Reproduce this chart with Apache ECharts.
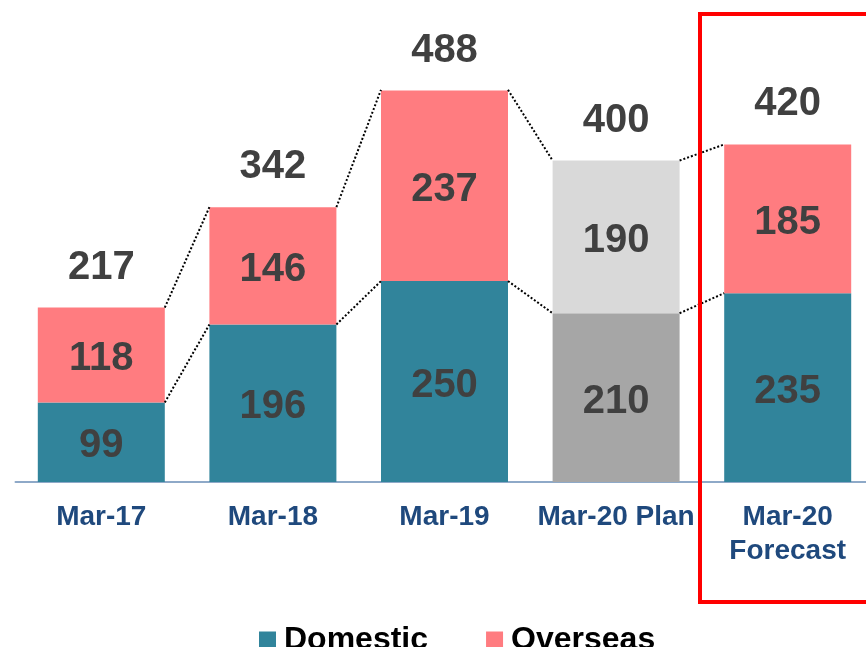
<!DOCTYPE html>
<html>
<head>
<meta charset="utf-8">
<script src="https://cdn.jsdelivr.net/npm/echarts@6/dist/echarts.min.js"></script>
<style>
  html, body { margin: 0; padding: 0; background: #fff; }
  #chart { width: 866px; height: 647px; }
</style>
</head>
<body>
<div id="chart"></div>
<script>
  // data
  const categories = ['Mar-17', 'Mar-18', 'Mar-19', 'Mar-20 Plan', 'Mar-20\nForecast'];
  const domestic = [99, 196, 250, 210, 235];
  const overseas = [118, 146, 237, 190, 185];
  const totals = [217, 342, 488, 400, 420];
  const planIndex = 3;

  const FONT = '"Liberation Sans", Arial, sans-serif';
  const BAR_W = 127;

  const myChart = echarts.init(document.getElementById('chart'));

  const valueLabel = {
    show: true,
    position: 'inside',
    offset: [0, 4],
    color: '#404040',
    fontFamily: FONT,
    fontWeight: 'bold',
    fontSize: 40
  };

  // dotted connectors between neighbouring bars (totals and domestic tops)
  const connectorItem = (params, api) => {
    const i = params.dataIndex;
    if (i >= categories.length - 1) return null;
    const half = BAR_W / 2;
    const lines = [];
    [totals, domestic].forEach((arr) => {
      const a = api.coord([i, arr[i]]);
      const b = api.coord([i + 1, arr[i + 1]]);
      lines.push({
        type: 'line',
        shape: { x1: a[0] + half, y1: a[1], x2: b[0] - half, y2: b[1] },
        style: { stroke: '#000', lineWidth: 2, lineDash: [2, 2] }
      });
    });
    return { type: 'group', children: lines };
  };

  myChart.setOption({
    animation: false,
    grid: { left: 15.5, width: 858, top: 48, bottom: 165, outerBoundsMode: 'none' },
    legend: {
      data: ['Domestic', 'Overseas'],
      left: 254,
      top: 619,
      itemWidth: 17,
      itemHeight: 17,
      itemGap: 58,
      icon: 'rect',
      textStyle: { fontFamily: FONT, fontWeight: 'bold', fontSize: 32, color: '#000', padding: [0, 0, 0, 3] }
    },
    xAxis: {
      type: 'category',
      data: categories,
      axisTick: { show: false },
      axisLine: { lineStyle: { color: '#8EA9C8', width: 2 } },
      axisLabel: {
        interval: 0,
        margin: 18,
        color: '#1F497D',
        fontFamily: FONT,
        fontWeight: 'bold',
        fontSize: 28,
        lineHeight: 34
      }
    },
    yAxis: { type: 'value', min: 0, max: 540, show: false },
    series: [
      {
        name: 'Domestic',
        type: 'bar',
        stack: 'total',
        barWidth: BAR_W,
        itemStyle: { color: '#31849B' },
        label: valueLabel,
        data: domestic.map((v, i) => i === planIndex ? { value: v, itemStyle: { color: '#A6A6A6' } } : v)
      },
      {
        name: 'Overseas',
        type: 'bar',
        stack: 'total',
        barWidth: BAR_W,
        itemStyle: { color: '#FF7C80' },
        label: valueLabel,
        data: overseas.map((v, i) => i === planIndex ? { value: v, itemStyle: { color: '#D9D9D9' } } : v)
      },
      {
        name: 'Total',
        type: 'bar',
        stack: 'total',
        barWidth: BAR_W,
        silent: true,
        itemStyle: { color: 'transparent' },
        label: Object.assign({}, valueLabel, { position: 'top', offset: [0, 0], distance: 20, formatter: (p) => totals[p.dataIndex] }),
        data: totals.map(() => 0)
      },
      {
        name: 'Connectors',
        type: 'custom',
        silent: true,
        renderItem: connectorItem,
        data: totals,
        z: 5
      }
    ],
    graphic: [
      {
        type: 'rect',
        shape: { x: 700, y: 14, width: 200, height: 588 },
        style: { fill: 'none', stroke: '#FF0000', lineWidth: 4 },
        z: 10
      }
    ]
  });
</script>
</body>
</html>
